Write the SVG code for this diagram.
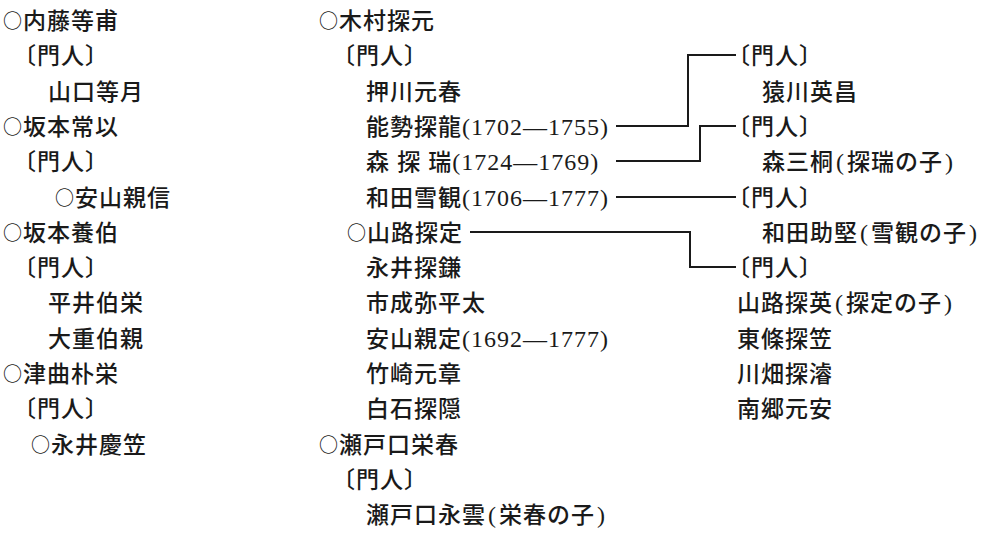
<svg xmlns="http://www.w3.org/2000/svg" width="985" height="553" viewBox="0 0 985 553">
<style>
text{font-family:"Noto Sans CJK JP","Noto Sans CJK SC",sans-serif;font-size:23px;font-weight:500;fill:#1a1a1a;letter-spacing:1px}
.c{font-size:19px;letter-spacing:1px}
.n{font-family:"Liberation Serif",serif;font-size:24px;letter-spacing:1px}
.ln{fill:none;stroke:#1a1a1a;stroke-width:2}
</style>
<rect width="985" height="553" fill="#fff"/>
<g id="col-a">
<g id="naito"><text x="3" y="29"><tspan class="c" dy="-1.5">○</tspan><tspan dy="1.5">内藤等甫</tspan></text><text x="13" y="64">〔門人〕</text><text x="48" y="100">山口等月</text></g>
<g id="sakamoto-jo"><text x="3" y="135"><tspan class="c" dy="-1.5">○</tspan><tspan dy="1.5">坂本常以</tspan></text><text x="13" y="170">〔門人〕</text><text x="55" y="206"><tspan class="c" dy="-1.5">○</tspan><tspan dy="1.5">安山親信</tspan></text></g>
<g id="sakamoto-yo"><text x="3" y="241"><tspan class="c" dy="-1.5">○</tspan><tspan dy="1.5">坂本養伯</tspan></text><text x="13" y="276">〔門人〕</text><text x="48" y="311">平井伯栄</text><text x="48" y="347">大重伯親</text></g>
<g id="tsumagari"><text x="3" y="382"><tspan class="c" dy="-1.5">○</tspan><tspan dy="1.5">津曲朴栄</tspan></text><text x="13" y="417">〔門人〕</text><text x="31" y="453"><tspan class="c" dy="-1.5">○</tspan><tspan dy="1.5">永井慶笠</tspan></text></g>
</g>
<g id="col-b">
<g id="kimura"><text x="319" y="29"><tspan class="c" dy="-1.5">○</tspan><tspan dy="1.5">木村探元</tspan></text><text x="332" y="64">〔門人〕</text><text x="366" y="100">押川元春</text></g>
<g id="noze"><text x="366" y="135">能勢探龍<tspan class="n">(1702—1755)</tspan></text></g>
<g id="mori"><text x="366" y="170" style="word-spacing:1px">森 探 瑞<tspan class="n" style="word-spacing:0">(1724—1769)</tspan></text></g>
<g id="wada"><text x="366" y="206">和田雪観<tspan class="n">(1706—1777)</tspan></text></g>
<g id="yamaji"><text x="347" y="241"><tspan class="c" dy="-1.5">○</tspan><tspan dy="1.5">山路探定</tspan></text></g>
<g id="nagai"><text x="366" y="276">永井探鎌</text></g>
<g id="ichinari"><text x="366" y="311">市成弥平太</text></g>
<g id="yasuyama"><text x="366" y="347">安山親定<tspan class="n">(1692—1777)</tspan></text></g>
<g id="takezaki"><text x="366" y="382">竹崎元章</text></g>
<g id="shiraishi"><text x="366" y="417">白石探隠</text></g>
<g id="setoguchi"><text x="319" y="453"><tspan class="c" dy="-1.5">○</tspan><tspan dy="1.5">瀬戸口栄春</tspan></text><text x="332" y="488">〔門人〕</text><text x="366" y="523">瀬戸口永雲<tspan class="n" dx="2">(</tspan><tspan dx="2">栄春の子</tspan><tspan class="n" dx="2">)</tspan></text></g>
</g>
<g id="col-c">
<g id="noze-pupils"><text x="727" y="64">〔門人〕</text><text x="762" y="100">猿川英昌</text></g>
<g id="mori-pupils"><text x="727" y="135">〔門人〕</text><text x="762" y="170">森三桐<tspan class="n" dx="2">(</tspan><tspan dx="2">探瑞の子</tspan><tspan class="n" dx="2">)</tspan></text></g>
<g id="wada-pupils"><text x="727" y="206">〔門人〕</text><text x="762" y="241">和田助堅<tspan class="n" dx="2">(</tspan><tspan dx="2">雪観の子</tspan><tspan class="n" dx="2">)</tspan></text></g>
<g id="yamaji-pupils"><text x="727" y="276">〔門人〕</text><text x="737" y="311">山路探英<tspan class="n" dx="2">(</tspan><tspan dx="2">探定の子</tspan><tspan class="n" dx="2">)</tspan></text><text x="737" y="347">東條探笠</text><text x="737" y="382">川畑探濬</text><text x="737" y="417">南郷元安</text></g>
</g>
<g id="connectors">
<polyline class="ln" points="616,126 688,126 688,55 736,55"/>
<polyline class="ln" points="616,161 700,161 700,126 736,126"/>
<polyline class="ln" points="616,197 736,197"/>
<polyline class="ln" points="470,232 690,232 690,267 736,267"/>
</g>
</svg>
